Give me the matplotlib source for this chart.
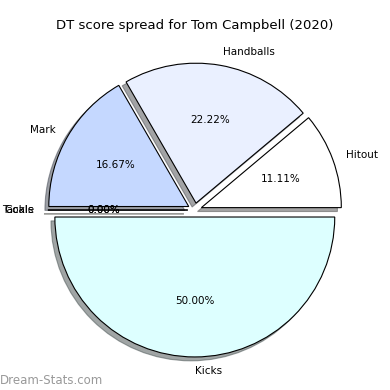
import matplotlib.pyplot as plt

labels = ['Hitout', 'Handballs', 'Mark', 'Goals', 'Tackle', 'Kicks']
scores = [2, 4, 3, 0, 0, 9]
colors = ['#ffffff', '#eaf0ff', '#c5d8ff', '#ffe0e0', '#e0ffe0', '#ddffff']
explode = [0.05] * len(labels)

fig = plt.figure(figsize=(3.9, 3.9), dpi=100)
ax = fig.add_axes([0.051, 0.013, 0.897, 0.897])

ax.pie(scores, labels=labels, colors=colors, explode=explode, shadow=True,
       autopct='%.2f%%', startangle=0,
       wedgeprops={'edgecolor': 'black', 'linewidth': 0.8},
       textprops={'fontsize': 7.5})
ax.set_aspect('equal')

fig.text(0.5, 0.926, 'DT score spread for Tom Campbell (2020)', ha='center',
         fontsize=9.5)
fig.text(0.0, 0.025, 'Dream-Stats.com', color='#999999', fontsize=8.5,
         ha='left', va='center')

fig.savefig('out.png')
